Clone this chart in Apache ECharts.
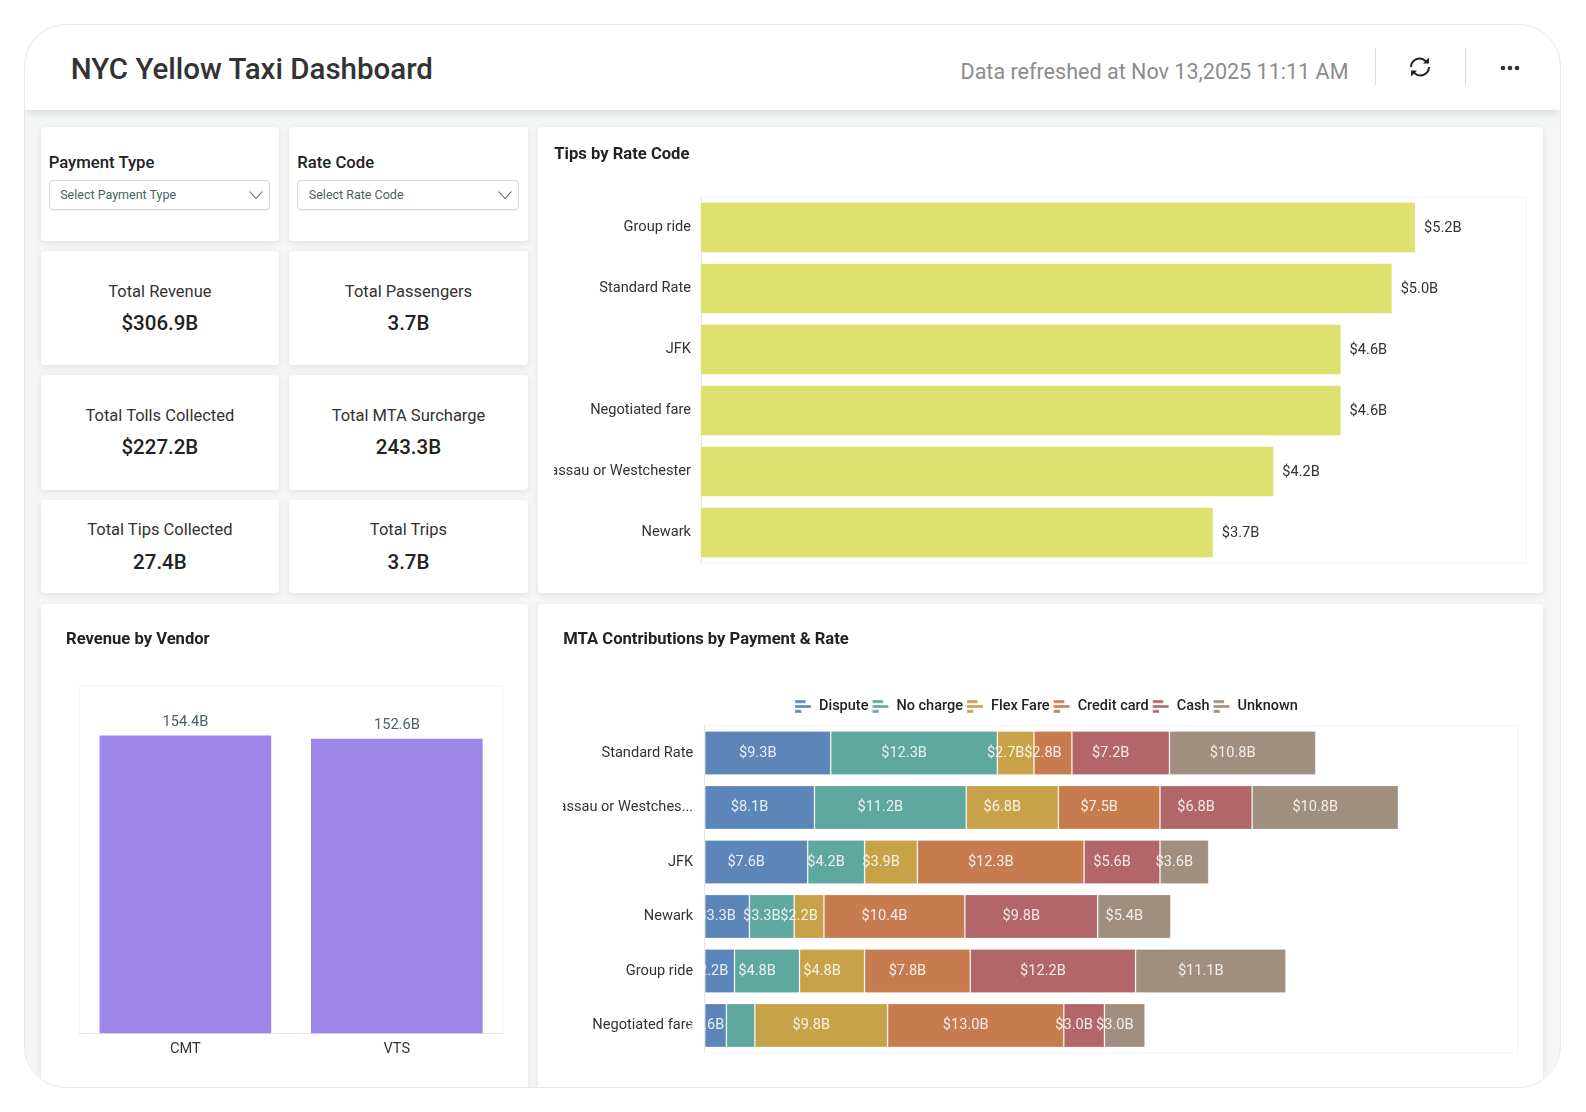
<!DOCTYPE html>
<html><head><meta charset="utf-8"><title>NYC Yellow Taxi Dashboard</title>
<script src="https://cdn.jsdelivr.net/npm/echarts@6/dist/echarts.min.js"></script>
<style>
html,body{margin:0;padding:0;background:#fff;width:1586px;height:1112px;overflow:hidden;font-family:Roboto,sans-serif;color:#2e2e2e}
#frame{position:absolute;left:25px;top:25px;width:1535px;height:1062px;border-radius:42px;overflow:hidden;background:#f5f6f6}
#head{position:absolute;left:0;top:0;width:100%;height:85px;background:#fff;box-shadow:0 2px 9px rgba(0,0,0,.14)}
#ring{position:absolute;left:24px;top:24px;width:1535px;height:1062px;border:1.5px solid #e6e8e8;border-radius:42px;pointer-events:none;z-index:5}
.abs{position:absolute}
#cards{position:absolute;left:0;top:0;width:1586px;height:1112px;clip-path:inset(25px 26px 25px 25px round 42px)}
.card{position:absolute;background:#fff;border-radius:4px;box-shadow:0 2px 7px rgba(0,0,0,.09)}
.flabel{position:absolute;left:8px;top:26px;font-size:16.7px;line-height:20px;font-weight:500;color:#222}
.select{position:absolute;left:8px;top:53px;width:221.500px;height:30.500px;box-sizing:border-box;border:1px solid #d4d8d8;border-radius:4px;box-shadow:0 1px 2px rgba(0,0,0,.06);font-size:12.5px;color:#4d5f5f;line-height:28.500px;text-indent:10.5px}
.select svg{position:absolute;right:5px;top:8px}
.kname{position:absolute;left:0;right:0;text-align:center;font-size:16.5px;line-height:20px;color:#333}
.kval{position:absolute;left:0;right:0;text-align:center;font-size:20.5px;line-height:24px;font-weight:500;color:#222}
.chart{position:absolute}
</style></head><body>
<div id="frame"><div id="head"></div></div>
<div id="cards"></div>
<div id="ring"></div>
<div class="abs" style="left:70.7px;top:50.5px;font-size:29.5px;line-height:37px;font-weight:500;color:#333;white-space:nowrap">NYC Yellow Taxi Dashboard</div>
<div class="abs" style="left:960.5px;top:59px;font-size:21.55px;line-height:26px;color:#8c8c8c;white-space:nowrap">Data refreshed at Nov 13,2025 11:11 AM</div>
<div class="abs" style="left:1374.5px;top:48px;width:1.5px;height:37px;background:#dcdcdc"></div>
<div class="abs" style="left:1464.5px;top:48px;width:1.5px;height:37px;background:#dcdcdc"></div>
<svg class="abs" style="left:1408px;top:55px" width="24" height="24" viewBox="0 0 24 24" fill="none" stroke="#222" stroke-width="2"><path d="M3 12a8.5 8.5 0 0 1 14-6.4L19 7"/><path d="M21 12a8.5 8.5 0 0 1-14 6.4L5 17"/><path d="M21 2.500v6h-6z" fill="#222" stroke="none"/><path d="M3 21.500v-6h6z" fill="#222" stroke="none"/></svg>
<svg class="abs" style="left:1498px;top:62px" width="24" height="12"><circle cx="5" cy="6" r="2.300" fill="#333"/><circle cx="12" cy="6" r="2.300" fill="#333"/><circle cx="19" cy="6" r="2.300" fill="#333"/></svg>
<div id="tipsChart" class="chart" style="left:554.300px;top:126.700px;width:989px;height:466px"></div>
<div id="vendorChart" class="chart" style="left:40.700px;top:604px;width:488px;height:483px"></div>
<div id="mtaChart" class="chart" style="left:563px;top:604px;width:980px;height:483px"></div>
<script>
// Filters and KPI cards
const filterNames = ['Payment Type', 'Rate Code'];
const filterHints = ['Select Payment Type', 'Select Rate Code'];
const kpiNames = ['Total Revenue', 'Total Passengers', 'Total Tolls Collected', 'Total MTA Surcharge', 'Total Tips Collected', 'Total Trips'];
const kpiValues = ['$306.9B', '3.7B', '$227.2B', '243.3B', '27.4B', '3.7B'];

// Tips by Rate Code ($B)
const tipCategories = ['Group ride', 'Standard Rate', 'JFK', 'Negotiated fare', 'Nassau or Westchester', 'Newark'];
const tipValues = [5.19, 5.02, 4.649, 4.649, 4.16, 3.72];

// Revenue by Vendor ($B)
const vendorCategories = ['CMT', 'VTS'];
const vendorValues = [154.4, 152.6];

// MTA contributions ($B)
const mtaCategories = ['Standard Rate', 'Nassau or Westchester', 'JFK', 'Newark', 'Group ride', 'Negotiated fare'];
const dispute    = [9.3, 8.1, 7.6, 3.3, 2.2, 1.6];
const noCharge   = [12.3, 11.2, 4.2, 3.3, 4.8, 2.1];
const flexFare   = [2.7, 6.8, 3.9, 2.2, 4.8, 9.8];
const creditCard = [2.8, 7.5, 12.3, 10.4, 7.8, 13.0];
const cash       = [7.2, 6.8, 5.6, 9.8, 12.2, 3.0];
const unknown    = [10.8, 10.8, 3.6, 5.4, 11.1, 3.0];

const chevron = '<svg width="16" height="12" viewBox="0 0 16 12" fill="none" stroke="#666" stroke-width="1.1"><path d="M1.500 2.500l6.500 7 6.500-7"/></svg>';
let html = '';
const cols = [40.7, 289.3];
filterNames.forEach((n, i) => {
  html += `<div class="card" style="left:${cols[i]}px;top:126.7px;width:238.4px;height:114px"><div class="flabel">${n}</div><div class="select">${filterHints[i]}${chevron}</div></div>`;
});
const rows = [[251, 114, 291.6, 322.7], [375, 114.5, 416, 447.4], [499.7, 93, 530.2, 561.6]];
kpiNames.forEach((n, i) => {
  const r = rows[Math.floor(i / 2)];
  html += `<div class="card" style="left:${cols[i % 2]}px;top:${r[0]}px;width:238.4px;height:${r[1]}px;">
  <div class="kname" style="top:${r[2] - r[0] - 10}px">${n}</div><div class="kval" style="top:${r[3] - r[0] - 12}px">${kpiValues[i]}</div></div>`;
});
html += '<div class="card" style="left:538px;top:126.7px;width:1005px;height:466px"></div>';
html += '<div class="card" style="left:40.7px;top:604px;width:487px;height:490px"></div>';
html += '<div class="card" style="left:538px;top:604px;width:1005px;height:490px"></div>';
document.getElementById('cards').innerHTML = html;

const FONT = 'Roboto';
const LABEL = 14.6;
const titleStyle = {fontFamily: FONT, fontSize: 16.6, fontWeight: 700, color: '#222'};
const axisGrey = '#e3e5e5';

const tips = echarts.init(document.getElementById('tipsChart'));
tips.setOption({
  animation: false,
  title: {text: 'Tips by Rate Code', left: 0.3, top: 19, textStyle: titleStyle, padding: 0},
  grid: {left: 147, top: 70, width: 825.5, height: 366, show: true, borderColor: '#f3f4f4', borderWidth: 1, outerBoundsMode: 'none'},
  xAxis: {type: 'value', min: 0, max: 6, show: false},
  yAxis: {type: 'category', inverse: true, data: tipCategories,
    axisLine: {lineStyle: {color: axisGrey}}, axisTick: {length: 5, lineStyle: {color: axisGrey}},
    axisLabel: {fontFamily: FONT, fontSize: LABEL, color: '#333', margin: 10, padding: [2, 0, 0, 0]}},
  series: [{type: 'bar', data: tipValues, barWidth: 49.6, itemStyle: {color: '#dfe16e'},
    label: {show: true, position: 'right', distance: 9, offset: [0, 1], fontFamily: FONT, fontSize: LABEL, color: '#333',
      formatter: p => '$' + p.value.toFixed(1) + 'B'}}]
});

const vendor = echarts.init(document.getElementById('vendorChart'));
vendor.setOption({
  animation: false,
  title: {text: 'Revenue by Vendor', left: 25, top: 27, textStyle: titleStyle, padding: 0},
  grid: {left: 38.6, top: 82, width: 423, height: 347.3, show: true, borderColor: '#f3f4f4', borderWidth: 1, outerBoundsMode: 'none'},
  xAxis: {type: 'category', data: vendorCategories,
    axisLine: {lineStyle: {color: axisGrey}}, axisTick: {length: 5, lineStyle: {color: axisGrey}},
    axisLabel: {fontFamily: FONT, fontSize: LABEL, color: '#333', margin: 9}},
  yAxis: {type: 'value', min: 0, max: 180, show: false},
  series: [{type: 'bar', data: vendorValues, barWidth: 171.7, itemStyle: {color: '#9d87e8'},
    label: {show: true, position: 'top', distance: 6, fontFamily: FONT, fontSize: LABEL, color: '#4a6064',
      formatter: p => p.value.toFixed(1) + 'B'}}]
});

const mtaSeries = [
  ['Dispute', dispute, '#5d86b8'], ['No charge', noCharge, '#5fa8a0'], ['Flex Fare', flexFare, '#c8a249'],
  ['Credit card', creditCard, '#c67c4e'], ['Cash', cash, '#b26669'], ['Unknown', unknown, '#a08e7e']
];
const hiddenLabels = {'No charge': ['Negotiated fare']};
const mta = echarts.init(document.getElementById('mtaChart'));
mta.setOption({
  animation: false,
  title: {text: 'MTA Contributions by Payment & Rate', left: 0.3, top: 27, textStyle: titleStyle, padding: 0},
  legend: {left: 226, top: 90, itemGap: 3, itemWidth: 16, itemHeight: 13,
    icon: 'path://M0 0h10v3H0zM0 4.500h15v3H0zM0 9h6v3H0z',
    textStyle: {fontFamily: FONT, fontSize: 14.5, fontWeight: 500, color: '#222', padding: [0, 0, 0, 3]},
    data: mtaSeries.map(s => s[0])},
  grid: {left: 141.7, top: 121.7, width: 813, height: 327, show: true, borderColor: '#f3f4f4', borderWidth: 1, outerBoundsMode: 'none'},
  xAxis: {type: 'value', min: 0, max: 60, show: false},
  yAxis: {type: 'category', inverse: true, data: mtaCategories,
    axisLine: {lineStyle: {color: axisGrey}}, axisTick: {length: 6, lineStyle: {color: axisGrey}},
    axisLabel: {fontFamily: FONT, fontSize: LABEL, color: '#333', margin: 11.5, overflow: 'truncate', width: 149, ellipsis: '...', padding: [1, 0, 0, 0]}},
  series: mtaSeries.map(s => ({
    type: 'bar', name: s[0], stack: 'mta', barWidth: 44,
    data: s[1].map((v, i) => ({value: v, label: {show: !(hiddenLabels[s[0]] || []).includes(mtaCategories[i])}})),
    itemStyle: {color: s[2], borderColor: 'rgba(255,255,255,.22)', borderWidth: 1},
    label: {show: true, position: 'inside', offset: [-10, 0], fontFamily: FONT, fontSize: LABEL, color: 'rgba(255,255,255,.85)',
      formatter: p => '$' + p.value.toFixed(1) + 'B'}
  }))
});
// labels that run past the left edge of the plot are cut off at the axis
mta.setOption({graphic: mtaCategories.map((c, i) => {
  const y = mta.convertToPixel({yAxisIndex: 0}, i);
  return {type: 'rect', z: 100, shape: {x: 134.5, y: y - 22, width: 6.7, height: 44}, style: {fill: '#fff'}};
})});
</script>
</body></html>
